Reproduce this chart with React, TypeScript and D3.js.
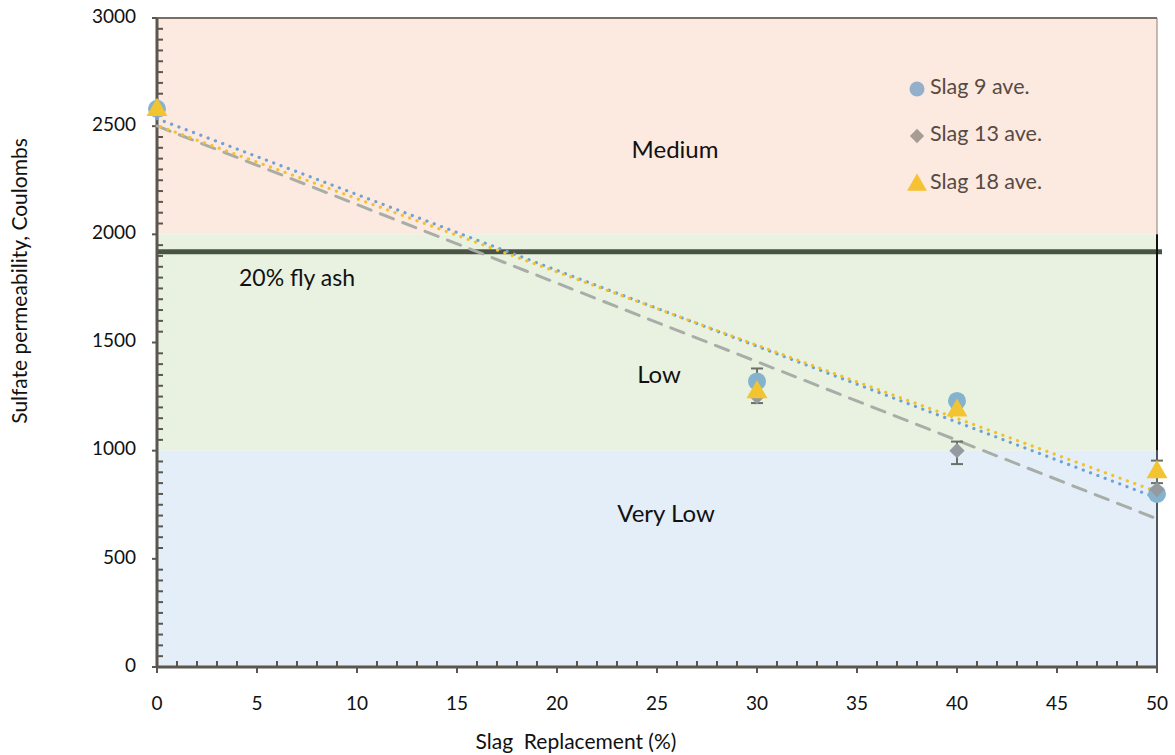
import React from "react";
import * as d3 from "d3";

const xs = [0, 30, 40, 50];
const slag9 = [2580, 1320, 1230, 800];
const slag13 = [2575, 1250, 1000, 820];
const slag18 = [2580, 1275, 1190, 905];
const errX = [30, 40, 50];
const errCenter = [1300, 990, 902];
const errHalf = [80, 52, 52];
const xTicks = [0, 5, 10, 15, 20, 25, 30, 35, 40, 45, 50];
const yTicks = [0, 500, 1000, 1500, 2000, 2500, 3000];
const bands = [
  { lo: 2000, hi: 3000, label: "Medium", color: "#FCE9DF", lx: 25.9, ly: 2380 },
  { lo: 1000, hi: 2000, label: "Low", color: "#E9F2E1", lx: 25.1, ly: 1340 },
  { lo: 0, hi: 1000, label: "Very Low", color: "#E4EEF8", lx: 25.45, ly: 700 },
];
const flyAsh = 1920;

function linreg(x: number[], y: number[]) {
  const mx = d3.mean(x)!;
  const my = d3.mean(y)!;
  let sxy = 0, sxx = 0;
  x.forEach((v, i) => { sxy += (v - mx) * (y[i] - my); sxx += (v - mx) ** 2; });
  const b = sxy / sxx;
  return { a: my - b * mx, b };
}

export default function App() {
  const W = 1175, H = 755;
  const x = d3.scaleLinear().domain([0, 50]).range([157, 1157]);
  const y = d3.scaleLinear().domain([0, 3000]).range([667, 18]);
  const font = "Lato, 'Open Sans', sans-serif";
  const axisColor = "#5b5650";

  const trend = (ys: number[]) => {
    const { a, b } = linreg(xs, ys);
    return d3.line<number>().x((d) => x(d)).y((d) => y(a + b * d))([0, 50])!;
  };

  const diamond = d3.symbol().type(d3.symbolDiamond2).size(150)()!;
  const tri = d3.symbol().type(d3.symbolTriangle).size(190)()!;
  const diamondL = d3.symbol().type(d3.symbolDiamond2).size(130)()!;
  const triL = d3.symbol().type(d3.symbolTriangle).size(170)()!;

  const minorX = d3.range(0, 51, 1).filter((v) => v % 5 !== 0);
  const minorY = d3.range(0, 3001, 50).filter((v) => v % 500 !== 0);

  const legend = [
    { label: "Slag 9 ave.", type: "circle", color: "#93AFCA", y: 89 },
    { label: "Slag 13 ave.", type: "diamond", color: "#A89D93", y: 136 },
    { label: "Slag 18 ave.", type: "tri", color: "#F6C232", y: 184 },
  ];

  return (
    <svg width={W} height={H} style={{ position: "absolute", left: 0, top: 0 }}>
      <rect x={0} y={0} width={W} height={H} fill="#fff" />
      {bands.map((b) => (
        <rect key={b.label} x={x(0)} y={y(b.hi)} width={x(50) - x(0)} height={y(b.lo) - y(b.hi)} fill={b.color} />
      ))}
      {bands.map((b) => (
        <text key={"l" + b.label} x={x(b.lx)} y={y(b.ly)} fontFamily={font} fontSize={24} fill="#111" textAnchor="middle" dominantBaseline="middle">{b.label}</text>
      ))}
      <line x1={x(0)} x2={1162} y1={y(flyAsh)} y2={y(flyAsh)} stroke="#4A5444" strokeWidth={5} />
      <text x={297} y={280} fontFamily={font} fontSize={23} fill="#111" textAnchor="middle" dominantBaseline="middle">20% fly ash</text>

      {/* axes */}
      <line x1={x(0)} x2={x(50)} y1={y(3000)} y2={y(3000)} stroke="#7a6e66" strokeWidth={2} />
      <line x1={x(50)} x2={x(50)} y1={y(3000)} y2={y(2000)} stroke="#8a7e76" strokeWidth={1} />
      <line x1={x(50)} x2={x(50)} y1={y(2000)} y2={y(1000)} stroke="#111" strokeWidth={2} />
      <line x1={x(50)} x2={x(50)} y1={y(1000)} y2={y(0)} stroke="#4d5560" strokeWidth={2} />
      <line x1={x(0)} x2={x(0)} y1={y(3000)} y2={y(0)} stroke={axisColor} strokeWidth={3} />
      <line x1={x(0)} x2={x(50)} y1={y(0)} y2={y(0)} stroke={axisColor} strokeWidth={3} />
      {minorX.map((v) => (
        <line key={"mx" + v} x1={x(v)} x2={x(v)} y1={y(0)} y2={y(0) - 6} stroke={axisColor} strokeWidth={2} />
      ))}
      {xTicks.map((v) => (
        <line key={"Mx" + v} x1={x(v)} x2={x(v)} y1={y(0)} y2={y(0) + 6} stroke={axisColor} strokeWidth={2} />
      ))}
      {minorY.map((v) => (
        <line key={"my" + v} x1={x(0)} x2={x(0) + 6} y1={y(v)} y2={y(v)} stroke={axisColor} strokeWidth={2} />
      ))}
      {yTicks.map((v) => (
        <line key={"My" + v} x1={x(0) - 5} x2={x(0)} y1={y(v)} y2={y(v)} stroke={axisColor} strokeWidth={2} />
      ))}
      {xTicks.map((v) => (
        <text key={"tx" + v} x={x(v)} y={705} fontFamily={font} fontSize={19} fill="#111" textAnchor="middle" dominantBaseline="middle">{v}</text>
      ))}
      {yTicks.map((v) => (
        <text key={"ty" + v} x={136} y={y(v)} fontFamily={font} fontSize={19} fill="#111" textAnchor="end" dominantBaseline="middle">{v}</text>
      ))}
      <text x={576} y={744} fontFamily={font} fontSize={21} fill="#111" textAnchor="middle" dominantBaseline="middle" style={{ whiteSpace: "pre" }}>{"Slag  Replacement (%)"}</text>
      <text transform={`translate(22,281) rotate(-90)`} fontFamily={font} fontSize={21} fill="#111" textAnchor="middle" dominantBaseline="middle">Sulfate permeability, Coulombs</text>

      {/* trend lines */}
      <path d={trend(slag13)} stroke="#A9ADA8" strokeWidth={3} strokeDasharray="14,10" fill="none" strokeLinecap="round" />
      <path d={trend(slag9)} stroke="#6FA1D6" strokeWidth={3.2} strokeDasharray="0.1,7.7" strokeLinecap="round" fill="none" />
      <path d={trend(slag18)} stroke="#F2C12E" strokeWidth={3.2} strokeDasharray="0.1,7.7" strokeDashoffset={-3.8} strokeLinecap="round" fill="none" />

      {/* error bars */}
      {errX.map((v, i) => (
        <g key={"e" + v} stroke="#6b7068" strokeWidth={2}>
          <line x1={x(v)} x2={x(v)} y1={y(errCenter[i] - errHalf[i])} y2={y(errCenter[i] + errHalf[i])} />
          <line x1={x(v) - 6} x2={x(v) + 6} y1={y(errCenter[i] + errHalf[i])} y2={y(errCenter[i] + errHalf[i])} />
          <line x1={x(v) - 6} x2={x(v) + 6} y1={y(errCenter[i] - errHalf[i])} y2={y(errCenter[i] - errHalf[i])} />
        </g>
      ))}

      {/* markers */}
      {xs.map((v, i) => (
        <circle key={"c" + v} cx={x(v)} cy={y(slag9[i])} r={9} fill="#85B2CC" />
      ))}
      {xs.map((v, i) => (
        <path key={"d" + v} d={diamond} transform={`translate(${x(v)},${y(slag13[i])})`} fill="#949A9F" />
      ))}
      {xs.map((v, i) => (
        <path key={"t" + v} d={tri} transform={`translate(${x(v)},${y(slag18[i]) + 1})`} fill="#F2C431" />
      ))}

      {/* legend */}
      {legend.map((l) => (
        <g key={l.label}>
          {l.type === "circle" && <circle cx={917} cy={l.y} r={7.5} fill={l.color} />}
          {l.type === "diamond" && <path d={diamondL} transform={`translate(917,${l.y})`} fill={l.color} />}
          {l.type === "tri" && <path d={triL} transform={`translate(917,${l.y + 1})`} fill={l.color} />}
          <text x={930} y={l.y} fontFamily={font} fontSize={21.5} fill="#574A44" dominantBaseline="middle">{l.label}</text>
        </g>
      ))}
    </svg>
  );
}
